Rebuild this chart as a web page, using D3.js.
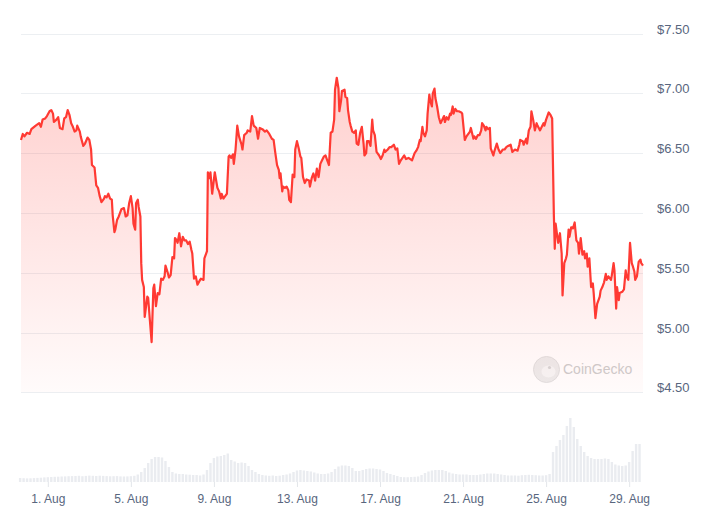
<!DOCTYPE html>
<html>
<head>
<meta charset="utf-8">
<script src="https://cdnjs.cloudflare.com/ajax/libs/d3/7.8.5/d3.min.js"></script>
<style>
  body { margin: 0; background: #fff; }
  #chart { width: 706px; height: 518px; }
</style>
</head>
<body>
<div id="chart"></div>
<script>
// price points: [hours since 1 Aug 00:00 UTC, price in USD]
var pricePoints = [
  [-31,6.61],[-29,6.66],[-27,6.64],[-24,6.67],[-21,6.66],[-19,6.70],[-14,6.73],[-10,6.75],[-8,6.72],[-6,6.78],
  [-3,6.79],[-1,6.81],[2,6.85],[4,6.86],[6,6.83],[7,6.76],[10,6.78],[12,6.80],[14,6.71],[17,6.70],
  [19,6.79],[21,6.80],[23,6.86],[25,6.82],[27,6.75],[29,6.72],[31,6.68],[33,6.69],[34,6.73],[37,6.68],
  [38,6.64],[41,6.56],[43,6.58],[46,6.63],[48,6.61],[50,6.53],[51,6.40],[54,6.38],[56,6.23],[58,6.21],
  [60,6.14],[62,6.09],[65,6.12],[66,6.14],[68,6.13],[70,6.16],[72,6.12],[74,6.11],[75,5.98],[77,5.84],
  [78,5.86],[80,5.94],[82,5.97],[85,6.03],[88,6.04],[90,5.97],[92,5.98],[94,6.08],[96,6.14],[98,6.04],
  [99,5.91],[101,5.86],[102,6.08],[104,6.11],[105,6.05],[107,5.97],
  [108,5.58],[109,5.44],[111,5.38],[112,5.13],[115,5.30],[116,5.29],[118,5.10],[120,4.92],[122,5.37],[123,5.40],
  [125,5.22],[127,5.33],[129,5.32],[131,5.45],[133,5.44],[135,5.47],[136,5.56],[139,5.49],[140,5.46],[142,5.48],
  [144,5.63],[146,5.62],[147,5.79],[149,5.77],[150,5.75],[152,5.83],[154,5.72],[156,5.80],[158,5.77],[160,5.77],
  [162,5.74],[164,5.76],[166,5.69],[167,5.66],[169,5.45],[171,5.47],[173,5.40],[176,5.44],[177,5.45],[180,5.44],
  [181,5.62],[183,5.66],[184,5.68],[185,6.34],[187,6.29],[188,6.34],[190,6.16],[191,6.22],[193,6.34],[196,6.21],
  [198,6.18],[200,6.12],[201,6.16],[203,6.12],[205,6.14],[207,6.16],[209,6.47],[210,6.48],[212,6.46],[214,6.49],
  [215,6.41],[217,6.53],[219,6.73],[221,6.64],[224,6.57],[225,6.53],[227,6.65],[230,6.67],[231,6.69],[234,6.68],
  [236,6.81],[238,6.73],[241,6.71],[243,6.62],[245,6.71],[248,6.70],[251,6.68],[253,6.69],
  [256,6.66],[259,6.62],[261,6.61],[263,6.50],[265,6.40],[267,6.36],[268,6.29],[269,6.33],[271,6.18],[272,6.22],
  [274,6.21],[276,6.22],[278,6.19],[279,6.11],[281,6.09],[283,6.32],[285,6.30],[286,6.53],[288,6.60],[290,6.54],
  [292,6.47],[293,6.46],[295,6.30],[297,6.25],[299,6.28],[302,6.27],[303,6.22],[305,6.29],[307,6.33],[309,6.27],
  [311,6.37],[313,6.30],[315,6.41],[317,6.44],[319,6.47],[321,6.48],[323,6.44],[325,6.40],[327,6.67],[329,6.68],
  [331,6.78],[332,7.03],[334,7.13],[336,7.04],[337,6.85],[339,6.94],[340,7.02],[343,7.03],[344,6.97],[346,6.96],
  [347,6.86],[349,6.76],[350,6.73],[352,6.68],[354,6.67],[356,6.69],[357,6.58],[359,6.57],[361,6.67],[363,6.72],
  [365,6.58],[366,6.48],[368,6.50],[369,6.60],[371,6.60],[373,6.56],[375,6.78],[376,6.69],[378,6.65],[380,6.51],
  [383,6.48],[385,6.45],[387,6.48],[389,6.53],[390,6.51],[393,6.53],[395,6.55],
  [397,6.55],[400,6.57],[402,6.53],[404,6.54],[406,6.41],[408,6.44],[410,6.46],[412,6.48],[414,6.45],[417,6.46],
  [419,6.45],[421,6.44],[424,6.50],[426,6.52],[428,6.55],[430,6.61],[431,6.60],[433,6.72],[434,6.67],[436,6.64],
  [438,6.69],[439,6.83],[441,6.99],[442,6.94],[444,6.89],[445,7.00],[447,7.04],[448,6.96],[450,6.89],[452,6.80],
  [454,6.75],[456,6.78],[458,6.81],[459,6.76],[461,6.80],[463,6.78],[465,6.83],[466,6.82],[468,6.89],[469,6.83],
  [471,6.87],[473,6.85],[475,6.85],[478,6.84],[479,6.83],[482,6.61],[484,6.64],[485,6.65],[488,6.68],[489,6.71],
  [492,6.62],[493,6.64],[495,6.62],[497,6.65],[499,6.65],[501,6.69],[502,6.75],[504,6.73],[506,6.69],[507,6.72],
  [509,6.70],[511,6.71],[512,6.54],[515,6.48],[516,6.51],[519,6.58],[521,6.53],[523,6.50],[526,6.53],[528,6.53],
  [530,6.55],[532,6.56],[535,6.57],[537,6.51],
  [540,6.53],[543,6.52],[545,6.57],[546,6.61],[549,6.60],[550,6.57],[553,6.62],[554,6.58],[556,6.69],[558,6.72],
  [559,6.85],[561,6.78],[563,6.69],[565,6.75],[566,6.73],[569,6.69],[571,6.72],[573,6.75],[574,6.73],[576,6.78],
  [579,6.84],[581,6.82],[583,6.79],[585,5.97],[586,5.70],[587,5.91],[589,5.80],[590,5.75],[592,5.83],[594,5.66],
  [595,5.31],[597,5.58],[599,5.62],[600,5.65],[602,5.86],[603,5.80],[605,5.88],[607,5.87],[609,5.92],[611,5.77],
  [613,5.75],[614,5.66],[616,5.79],[618,5.65],[620,5.68],[621,5.62],[623,5.66],[624,5.55],[626,5.62],[628,5.38],
  [630,5.41],[631,5.33],[633,5.12],[635,5.24],[638,5.30],[639,5.35],[641,5.38],[643,5.42],[645,5.49],[646,5.44],
  [648,5.47],[651,5.44],[652,5.48],[654,5.58],[655,5.52],[657,5.20],[658,5.38],[660,5.27],[661,5.33],[664,5.34],
  [666,5.36],[668,5.52],[669,5.47],[671,5.44],[673,5.75],[675,5.58],[676,5.56],[678,5.51],[679,5.44],[681,5.47],
  [683,5.59],[685,5.61],[686,5.58],[688,5.56]
];

// 24h volume ($M), one value every 4 hours starting at -32h
var volumeStartHour = -32;
var volumeStepHours = 4;
var volumes = [
  4.0,3.8,3.6,3.7,3.9,4.1,4.3,4.6,4.8,5.0,
  5.2,5.3,5.5,5.6,5.8,5.9,6.0,6.2,5.8,6.1,
  6.4,6.2,6.0,6.3,6.1,5.9,5.7,5.8,5.9,5.6,
  5.5,5.6,5.8,6.2,7.5,10,14,19,23,25,
  25,24.5,21,15,10,8.5,8,8,7.5,7.3,
  7,7,6.5,7.5,12,19,24,25.5,26,27,
  28.5,22,20.5,19,19.5,19,16,12,10,8,
  7,6.5,6.2,6.5,6,6.3,7,7.5,8.5,10,
  11.5,12,11.5,11,10.5,9.5,8.5,8,8,8.5,
  10,13,15.5,16.5,16.5,16,14,11,11,12,
  13,13.5,13.5,13,12.5,11,9,8,7,6,
  5,4.8,4.8,5,5.2,5.5,7,9,10.5,11.5,
  12,12,12,11,9.5,8.5,8,7.5,7.5,7.5,
  7,7,7,7.5,8,8.5,8.5,8.5,8,7.5,
  7,6.5,6.5,6.5,6.3,6.8,7,7.2,7,6.8,
  6.5,6.5,6.8,8,30,36,42,47,56,64,
  55,43,36,30,26,24,23,23,23,23.5,
  23,20,17.5,16.5,16,16.5,20,31,38,38
];

var tickDays = [1, 5, 9, 13, 17, 21, 25, 29];
var priceTicks = [4.5, 5, 5.5, 6, 6.5, 7, 7.5];

function drawPriceChart(options) {
    options.width = options.width ? options.width : 706;
    options.height = options.height ? options.height : 518;
    options.color = options.color ? options.color : "#ff3a33";
    options.gridcolor = options.gridcolor ? options.gridcolor : "#eceff2";
    options.labelcolor = options.labelcolor ? options.labelcolor : "#58667e";

    var base = Date.UTC(2024, 7, 1);
    var hour = 3600 * 1000;
    var data = pricePoints.map(function (d) {
        return {date: new Date(base + d[0] * hour), price: d[1]};
    });
    var vol = volumes.map(function (v, i) {
        return {date: new Date(base + (volumeStartHour + i * volumeStepHours) * hour), volume: v};
    });

    var left = 21, right = 643, top = 33.5, bottom = 392.3, volBase = 482;

    var svg = d3.select(options.container).append("svg")
            .attr("width", options.width)
            .attr("height", options.height)
            .style("font-family", "'Liberation Sans', Arial, sans-serif");

    var x = d3.scaleUtc().domain(d3.extent(data, function (d) { return d.date; })).range([left, right]);
    var y = d3.scaleLinear().domain([4.5, 7.5]).range([bottom, top]);
    var yVol = d3.scaleLinear().domain([0, d3.max(vol, function (d) { return d.volume; })]).range([volBase, 418]);

    var grad = svg.append("defs").append("linearGradient")
            .attr("id", "areaFill")
            .attr("gradientUnits", "userSpaceOnUse")
            .attr("x1", 0).attr("x2", 0)
            .attr("y1", y(7.5)).attr("y2", y(4.5));
    grad.append("stop").attr("offset", 0).attr("stop-color", options.color).attr("stop-opacity", 0.27);
    grad.append("stop").attr("offset", 1).attr("stop-color", options.color).attr("stop-opacity", 0.02);

    // grid
    svg.append("g").selectAll("line")
            .data(priceTicks)
            .enter().append("line")
            .attr("x1", left).attr("x2", right)
            .attr("y1", function (d) { return Math.round(y(d)) + 0.5; })
            .attr("y2", function (d) { return Math.round(y(d)) + 0.5; })
            .style("stroke", options.gridcolor)
            .style("stroke-width", 1);

    // volume bars
    svg.append("g").selectAll("rect")
            .data(vol)
            .enter().append("rect")
            .attr("x", function (d) { return x(d.date) - 1.2; })
            .attr("width", 2.4)
            .attr("y", function (d) { return yVol(d.volume); })
            .attr("height", function (d) { return volBase - yVol(d.volume); })
            .style("fill", "#eaecf0");

    // watermark
    var wm = svg.append("g").attr("transform", "translate(546.5,369.5)");
    wm.append("circle").attr("r", 13).style("fill", "#ececec").style("stroke", "#e0e0e0");
    wm.append("ellipse").attr("cx", 2).attr("cy", 2).attr("rx", 7).attr("ry", 6).style("fill", "#f6f6f6");
    wm.append("circle").attr("cx", 3).attr("cy", -2).attr("r", 1.6).style("fill", "#d6d6d6");
    svg.append("text")
            .attr("x", 563).attr("y", 374)
            .style("font-size", "14px")
            .style("fill", "#cdcdcd")
            .text("CoinGecko");

    var area = d3.area()
            .x(function (d) { return x(d.date); })
            .y0(y(4.5))
            .y1(function (d) { return y(d.price); });
    var line = d3.line()
            .x(function (d) { return x(d.date); })
            .y(function (d) { return y(d.price); });

    svg.append("path").datum(data)
            .attr("d", area)
            .style("fill", "url(#areaFill)");
    svg.append("path").datum(data)
            .attr("d", line)
            .style("fill", "none")
            .style("stroke", options.color)
            .style("stroke-width", "2.2px")
            .style("stroke-linejoin", "round");

    // y labels on the right
    svg.append("g").selectAll("text")
            .data(priceTicks)
            .enter().append("text")
            .attr("x", 657)
            .attr("y", function (d) { return y(d); })
            .style("font-size", "13px")
            .style("fill", options.labelcolor)
            .text(function (d) { return "$" + d3.format(".2f")(d); });

    // x axis
    var tickDates = tickDays.map(function (d) { return new Date(Date.UTC(2024, 7, d)); });
    var x_g = svg.append("g")
            .attr("transform", "translate(0," + volBase + ")")
            .call(d3.axisBottom(x).tickValues(tickDates).tickSize(5).tickPadding(7)
                    .tickFormat(d3.utcFormat("%-d. %b")));
    x_g.select(".domain").remove();
    x_g.selectAll("line").style("stroke", "#e3e6ea");
    x_g.selectAll("text")
            .style("font-size", "12px")
            .style("font-family", "'Liberation Sans', Arial, sans-serif")
            .style("fill", options.labelcolor);
}

drawPriceChart({container: "#chart"});
</script>
</body>
</html>
